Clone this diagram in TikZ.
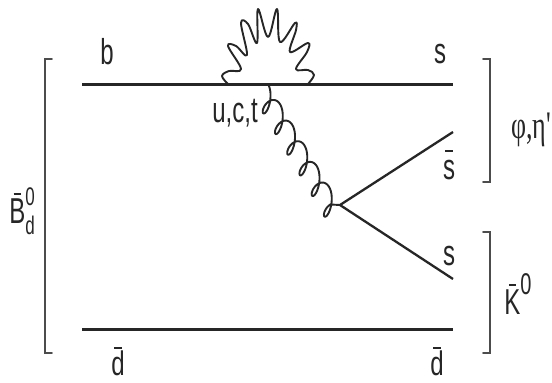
\documentclass[tikz,border=0pt]{standalone}
\usepackage{fontspec}
\setmainfont{Liberation Sans}
\newfontfamily\grk{Liberation Serif}
\newcommand{\tallA}[1]{\scalebox{1}[1.5]{#1}}
\newcommand{\tallB}[1]{\scalebox{1}[1.42]{#1}}
\newcommand{\barred}[1]{\ooalign{#1\cr\hidewidth\raisebox{0.78em}{\rule{0.3em}{0.05em}}\hidewidth\cr}}
\tikzset{
  quark/.style={line width=3pt,draw=black!85},
  diag/.style={line width=2.3pt,draw=black!85},
  brk/.style={line width=1.9pt,draw=black!70,line cap=round},
  lab/.style={inner sep=0pt,font=\fontsize{24}{24}\selectfont,text=black!85},
  curly/.style={line width=1.9pt,draw=black!85,line join=round}
}
\begin{document}
\begin{tikzpicture}[x=1pt,y=-1pt]
\useasboundingbox (0,0) rectangle (552,383);
\fill[white] (0,0) rectangle (552,383);
% vertices
\coordinate (tl) at (82,84);
\coordinate (tr) at (453,84);
\coordinate (bl) at (82,329);
\coordinate (br) at (453,329);
\coordinate (gs) at (268,85);
\coordinate (v) at (340,205);
\coordinate (sb) at (453,132);
\coordinate (s2) at (453,279);
% quark lines
\draw[quark] (tl) -- (tr);
\draw[quark] (bl) -- (br);
\draw[diag] (v) -- (sb);
\draw[diag] (v) -- (s2);
% gluon
\draw[curly] (gs) -- plot[domain=10:2080,samples=260,smooth]
  ({268.5+0.51*(0.0667*(\x-180)+7.5*sin(\x))+0.5*11*cos(\x)},
   {103.5+0.86*(0.0667*(\x-180)+7.5*sin(\x))-0.86*11*cos(\x)}) -- (v);
% photon loop
\draw[curly] plot[smooth,tension=0.62] coordinates {
 (228,84) (222,76) (229,71) (241,69) (228,46) (236,46) (247,55)
 (241,23) (248,24) (257,43) (258,9) (268,37)
 (277,9) (280,42) (295,23) (296,30) (290,52)
 (308,43) (307,52) (296,69) (308,70) (314,75) (308,84)};
% brackets
\draw[brk] (52,59) -- (45,59) -- (45,353) -- (52,353);
\draw[brk] (483,59) -- (490,59) -- (490,182) -- (483,182);
\draw[brk] (483,232) -- (490,232) -- (490,353) -- (483,353);
% labels
\node[lab] (lb) at (107,52) {\tallA{b}};
\node[lab] (ls) at (440,54) {\tallA{s}};
\node[lab] (lsb) at (449,170) {\tallA{\barred{s}}};
\node[lab] (ls2) at (449,256) {\tallA{s}};
\node[lab] (ld) at (118,363) {\tallB{\barred{d}}};
\node[lab] (ld2) at (437,363) {\tallB{\barred{d}}};
\node[lab] (uct) at (235,113) {\tallA{u,c,t}};
\node[lab] (k) at (518,294) {\tallA{\barred{K}\raisebox{0.55em}{\fontsize{20}{20}\selectfont 0}}};
\node[lab] (b0) at (22,211) {\tallA{\barred{B}\rlap{\raisebox{0.5em}{\fontsize{17}{17}\selectfont 0}}\raisebox{-0.32em}{\fontsize{17}{17}\selectfont d}}};
\node[lab,font=\fontsize{26}{26}\selectfont\grk] (pe) at (531,130) {\tallA{φ,η'}};
\end{tikzpicture}
\end{document}
